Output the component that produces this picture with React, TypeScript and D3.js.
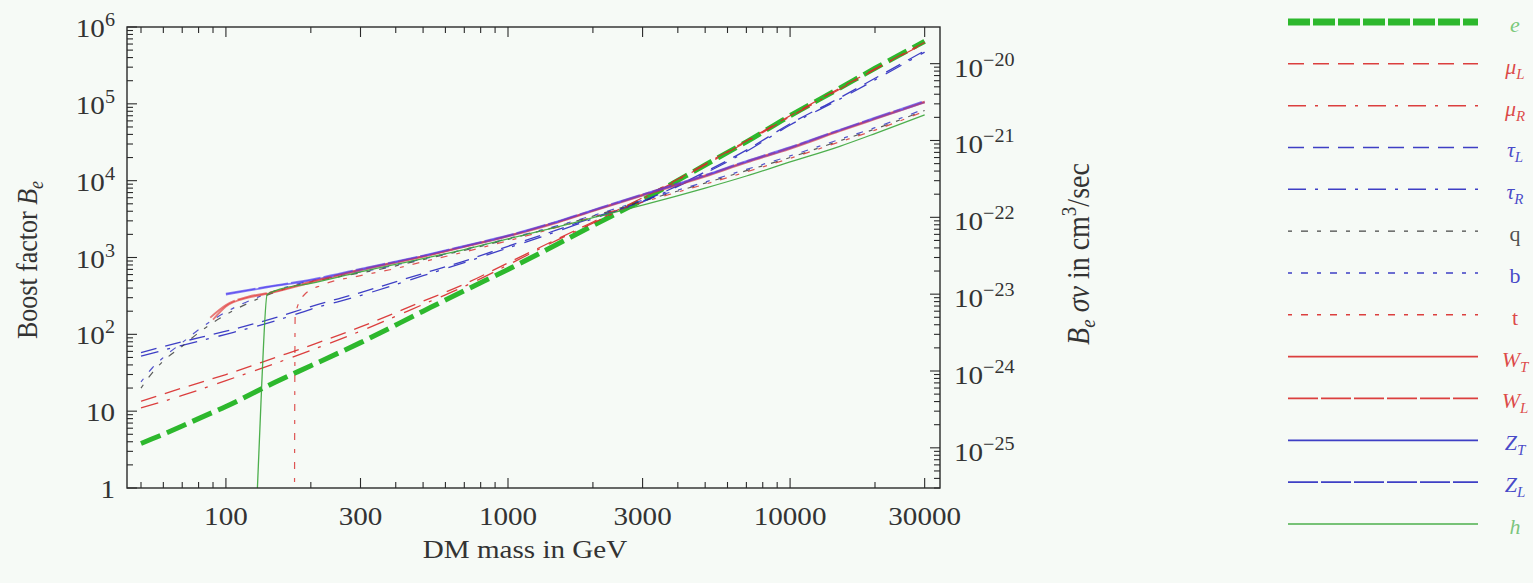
import React from "react";
import * as d3 from "d3";

type Pt = [number, number];

// DM mass (GeV) -> boost factor B_e
const eData: Pt[] = [[50,3.8],[60,5.0],[70,6.4],[80,8.0],[100,11.5],[150,24],[200,39],[300,78],[500,200],[700,370],[1000,700],[1500,1500],[2000,2600],[3000,5600],[5000,16000],[7000,32000],[10000,70000],[15000,160000],[20000,290000],[30000,650000]];
const muLData: Pt[] = [[50,13.5],[70,20],[100,30],[150,50],[200,72],[300,125],[500,270],[700,450],[1000,850],[1500,1750],[2000,2900],[3000,6000],[5000,16500],[7000,33000],[10000,70000],[15000,160000],[20000,285000],[30000,630000]];
const muRData: Pt[] = [[50,11],[70,16],[100,25],[150,42],[200,62],[300,110],[500,245],[700,420],[1000,800],[1500,1700],[2000,2800],[3000,5800],[5000,16000],[7000,32000],[10000,68000],[15000,155000],[20000,280000],[30000,610000]];
const tauLData: Pt[] = [[50,58],[70,80],[100,110],[150,165],[200,230],[300,350],[500,620],[700,900],[1000,1400],[1500,2300],[2000,3300],[3000,5400],[5000,13000],[7000,25000],[10000,55000],[15000,120000],[20000,215000],[30000,490000]];
const tauRData: Pt[] = [[50,52],[70,72],[100,100],[150,150],[200,212],[300,320],[500,580],[700,860],[1000,1330],[1500,2200],[2000,3200],[3000,5300],[5000,12500],[7000,24000],[10000,53000],[15000,115000],[20000,205000],[30000,470000]];
const qData: Pt[] = [[50,20],[55,32],[60,45],[70,70],[80,105],[100,180],[130,290],[180,440],[250,560],[350,700],[500,940],[700,1240],[1000,1720],[1500,2550],[2000,3450],[3000,5400],[5000,9300],[7000,13500],[10000,20000],[15000,33000],[20000,47000],[30000,82000]];
const bData: Pt[] = [[50,24],[55,37],[60,50],[70,78],[80,115],[100,195],[130,305],[180,455],[250,575],[350,720],[500,960],[700,1270],[1000,1760],[1500,2600],[2000,3520],[3000,5550],[5000,9600],[7000,14000],[10000,21000],[15000,34500],[20000,49000],[30000,86000]];
const tData: Pt[] = [[175,0.5],[176,180],[190,330],[220,440],[300,580],[400,720],[500,880],[700,1180],[1000,1650],[1500,2480],[2000,3350],[3000,5250],[5000,9000],[7000,13000],[10000,19500],[15000,32000],[20000,45500],[30000,80000]];
const WTData: Pt[] = [[90,155],[100,230],[120,300],[140,335],[200,470],[300,680],[500,1020],[700,1370],[1000,1880],[1500,2850],[2000,4000],[3000,6400],[5000,11300],[7000,17200],[10000,26000],[15000,44000],[20000,63000],[30000,104000]];
const WLData: Pt[] = [[88,165],[100,240],[120,310],[140,345],[200,485],[300,700],[500,1040],[700,1400],[1000,1920],[1500,2920],[2000,4100],[3000,6600],[5000,11700],[7000,17800],[10000,27000],[15000,45500],[20000,65000],[30000,107000]];
const ZTData: Pt[] = [[100,330],[120,370],[140,410],[200,505],[300,690],[500,1040],[700,1390],[1000,1900],[1500,2900],[2000,4080],[3000,6500],[5000,11500],[7000,17500],[10000,26500],[15000,45000],[20000,64000],[30000,105000]];
const ZLData: Pt[] = [[100,338],[120,378],[140,418],[200,515],[300,710],[500,1060],[700,1420],[1000,1940],[1500,2960],[2000,4150],[3000,6650],[5000,11800],[7000,18000],[10000,27300],[15000,46000],[20000,66000],[30000,109000]];
const hData: Pt[] = [[129,0.8],[134,23],[140,330],[150,370],[200,460],[300,650],[500,970],[700,1270],[1000,1750],[1500,2500],[2000,3300],[3000,4800],[5000,8000],[7000,11500],[10000,17500],[15000,28000],[20000,41000],[30000,72000]];

// tick values
const xMajorTicks = [100, 300, 1000, 3000, 10000, 30000];
const xMinorTicks = [50, 60, 70, 80, 90, 200, 400, 500, 600, 700, 800, 900, 2000, 4000, 5000, 6000, 7000, 8000, 9000, 20000];
const yLeftExps = [0, 1, 2, 3, 4, 5, 6];
const yRightExps = [-25, -24, -23, -22, -21, -20];

const RED = "#d82a2a";
const BLUE = "#2a2ac0";
const WRED = "#e03434";
const ZBLUE = "#4c3af0";
const GREEN = "#2db82d";
const HGREEN = "#3aa63a";
const GREY = "#333333";

type Series = {
  data: Pt[];
  main: string;
  sub?: string;
  italic: boolean;
  color: string;
  legColor: string;
  labelColor: string;
  width: number;
  dash?: string;
  legWidth: number;
  legDash?: string;
  opacity: number;
  z: number;
};

const series: Series[] = [
  { data: eData, main: "e", italic: true, color: GREEN, legColor: GREEN, labelColor: "#63c063", width: 5, dash: "21,7", legWidth: 7, legDash: "22,3", opacity: 1, z: 0 },
  { data: muLData, main: "μ", sub: "L", italic: true, color: RED, legColor: RED, labelColor: RED, width: 1.3, dash: "16,9", legWidth: 1.5, legDash: "16,9", opacity: 0.9, z: 1 },
  { data: muRData, main: "μ", sub: "R", italic: true, color: RED, legColor: RED, labelColor: RED, width: 1.3, dash: "18,9,3,10", legWidth: 1.5, legDash: "18,9,3,10", opacity: 0.9, z: 2 },
  { data: tauLData, main: "τ", sub: "L", italic: true, color: BLUE, legColor: BLUE, labelColor: BLUE, width: 1.3, dash: "16,9", legWidth: 1.5, legDash: "16,9", opacity: 0.9, z: 3 },
  { data: tauRData, main: "τ", sub: "R", italic: true, color: BLUE, legColor: BLUE, labelColor: BLUE, width: 1.3, dash: "18,9,3,10", legWidth: 1.5, legDash: "18,9,3,10", opacity: 0.9, z: 4 },
  { data: qData, main: "q", italic: false, color: GREY, legColor: GREY, labelColor: GREY, width: 1.2, dash: "4,9,7,9", legWidth: 1.4, legDash: "4,9,7,9", opacity: 0.8, z: 5 },
  { data: bData, main: "b", italic: false, color: BLUE, legColor: BLUE, labelColor: BLUE, width: 1.2, dash: "4,9,7,9", legWidth: 1.4, legDash: "4,9,7,9", opacity: 0.8, z: 6 },
  { data: tData, main: "t", italic: false, color: RED, legColor: RED, labelColor: RED, width: 1.2, dash: "4,9,7,9", legWidth: 1.4, legDash: "4,9,7,9", opacity: 0.8, z: 7 },
  { data: WTData, main: "W", sub: "T", italic: true, color: WRED, legColor: RED, labelColor: RED, width: 1.8, legWidth: 1.8, opacity: 0.65, z: 8 },
  { data: WLData, main: "W", sub: "L", italic: true, color: WRED, legColor: RED, labelColor: RED, width: 1.8, dash: "30,3", legWidth: 1.8, legDash: "30,3", opacity: 0.65, z: 10 },
  { data: ZTData, main: "Z", sub: "T", italic: true, color: ZBLUE, legColor: BLUE, labelColor: BLUE, width: 1.8, legWidth: 1.8, opacity: 0.65, z: 9 },
  { data: ZLData, main: "Z", sub: "L", italic: true, color: ZBLUE, legColor: BLUE, labelColor: BLUE, width: 1.8, dash: "30,3", legWidth: 1.8, legDash: "30,3", opacity: 0.65, z: 11 },
  { data: hData, main: "h", italic: true, color: HGREEN, legColor: HGREEN, labelColor: "#66bb66", width: 1.3, legWidth: 1.6, opacity: 0.9, z: 12 },
];

const W = 1533, H = 583;
const PL = 127, PR = 940, PT = 27, PB = 488;
const FONT = "'Liberation Serif', 'Times New Roman', serif";
const SX = 1.12;
const TICK_FS = 26;
const SUP_FS = 18;

const x = d3.scaleLog().domain([44.6, 34000]).range([PL, PR]);
const y = d3.scaleLog().domain([1, 1e6]).range([PB, PT]);
const y2 = d3.scaleLog().domain([3e-26, 3e-20]).range([PB, PT]);

const line = d3
  .line<Pt>()
  .x((d) => x(d[0]))
  .y((d) => y(d[1]))
  .curve(d3.curveMonotoneX);

function leftMinor(): number[] {
  const out: number[] = [];
  for (let n = 0; n < 6; n++) for (let k = 2; k <= 9; k++) out.push(k * Math.pow(10, n));
  return out;
}
function rightMinor(): number[] {
  const out: number[] = [];
  for (let n = -26; n <= -21; n++)
    for (let k = 2; k <= 9; k++) {
      const v = k * Math.pow(10, n);
      if (v >= 3e-26 * 0.999 && v <= 3e-20 * 1.001) out.push(v);
    }
  return out;
}

function Stretch({ tx, ty, rot, children }: { tx: number; ty: number; rot?: number; children: React.ReactNode }) {
  return (
    <g transform={`translate(${tx},${ty}) scale(${SX},1)${rot ? ` rotate(${rot})` : ""}`}>{children}</g>
  );
}

export default function App() {
  const MAJ = 10, MIN = 6;
  const legX1 = 1288, legX2 = 1478, legY0 = 22, legDY = 41.83;
  const drawOrder = [...series].sort((a, b) => a.z - b.z);
  return (
    <svg
      width={W}
      height={H}
      style={{ position: "absolute", left: 0, top: 0, display: "block" }}
      xmlns="http://www.w3.org/2000/svg"
    >
      <defs>
        <clipPath id="plotclip">
          <rect x={PL} y={PT} width={PR - PL} height={PB - PT} />
        </clipPath>
      </defs>
      <rect x={0} y={0} width={W} height={H} fill="#f6faf6" />

      {/* curves */}
      <g clipPath="url(#plotclip)" fill="none" strokeLinecap="butt">
        {drawOrder.map((s, i) => (
          <path
            key={i}
            d={line(s.data) || ""}
            stroke={s.color}
            strokeWidth={s.width}
            strokeDasharray={s.dash}
            strokeOpacity={s.opacity}
          />
        ))}
      </g>

      {/* frame */}
      <rect x={PL} y={PT} width={PR - PL} height={PB - PT} fill="none" stroke="#2a2a2a" strokeWidth={1.4} />

      {/* ticks */}
      <g stroke="#2a2a2a" strokeWidth={1.1}>
        {xMajorTicks.map((v) => (
          <g key={"xM" + v}>
            <line x1={x(v)} x2={x(v)} y1={PB} y2={PB - MAJ} />
            <line x1={x(v)} x2={x(v)} y1={PT} y2={PT + MAJ} />
          </g>
        ))}
        {xMinorTicks.map((v) => (
          <g key={"xm" + v}>
            <line x1={x(v)} x2={x(v)} y1={PB} y2={PB - MIN} />
            <line x1={x(v)} x2={x(v)} y1={PT} y2={PT + MIN} />
          </g>
        ))}
        {yLeftExps.map((e) => (
          <line key={"yM" + e} x1={PL} x2={PL + MAJ} y1={y(Math.pow(10, e))} y2={y(Math.pow(10, e))} />
        ))}
        {leftMinor().map((v) => (
          <line key={"ym" + v} x1={PL} x2={PL + MIN} y1={y(v)} y2={y(v)} />
        ))}
        {yRightExps.map((e) => (
          <line key={"rM" + e} x1={PR} x2={PR - MAJ} y1={y2(Math.pow(10, e))} y2={y2(Math.pow(10, e))} />
        ))}
        {rightMinor().map((v) => (
          <line key={"rm" + v} x1={PR} x2={PR - MIN} y1={y2(v)} y2={y2(v)} />
        ))}
      </g>

      {/* tick labels */}
      <g fontFamily={FONT} fill="#333">
        {xMajorTicks.map((v) => (
          <Stretch key={"xl" + v} tx={x(v)} ty={525}>
            <text textAnchor="middle" fontSize={TICK_FS}>
              {String(v)}
            </text>
          </Stretch>
        ))}
        {yLeftExps.map((e) => (
          <Stretch key={"yl" + e} tx={115} ty={y(Math.pow(10, e)) + 10}>
            <text textAnchor="end" fontSize={TICK_FS}>
              {e === 0 ? "1" : e === 1 ? "10" : (
                <>
                  <tspan>10</tspan>
                  <tspan fontSize={SUP_FS} dy={-11}>{String(e)}</tspan>
                </>
              )}
            </text>
          </Stretch>
        ))}
        {yRightExps.map((e) => (
          <Stretch key={"yr" + e} tx={954} ty={y2(Math.pow(10, e)) + 13}>
            <text textAnchor="start" fontSize={TICK_FS}>
              <tspan>10</tspan>
              <tspan fontSize={SUP_FS} dy={-11}>{"−" + String(-e)}</tspan>
            </text>
          </Stretch>
        ))}
      </g>

      {/* axis titles */}
      <g fontFamily={FONT} fill="#333">
        <Stretch tx={525} ty={558}>
          <text textAnchor="middle" fontSize={26}>DM mass in GeV</text>
        </Stretch>
        <Stretch tx={37} ty={260} rot={-90}>
          <text textAnchor="middle" fontSize={TICK_FS}>
            <tspan>Boost factor </tspan>
            <tspan fontStyle="italic">B</tspan>
            <tspan fontStyle="italic" fontSize={SUP_FS} dy={5}>e</tspan>
          </text>
        </Stretch>
        <Stretch tx={1089} ty={254} rot={-90}>
          <text textAnchor="middle" fontSize={28}>
            <tspan fontStyle="italic">B</tspan>
            <tspan fontStyle="italic" fontSize={19} dy={5}>e</tspan>
            <tspan dy={-5}> </tspan>
            <tspan fontStyle="italic">σv</tspan>
            <tspan> in cm</tspan>
            <tspan fontSize={19} dy={-12}>3</tspan>
            <tspan dy={12}>/sec</tspan>
          </text>
        </Stretch>
      </g>

      {/* legend */}
      <g>
        {series.map((s, i) => {
          const ly = legY0 + i * legDY;
          return (
            <g key={"lg" + i}>
              <line
                x1={legX1}
                x2={legX2}
                y1={ly}
                y2={ly}
                stroke={s.legColor}
                strokeWidth={s.legWidth}
                strokeDasharray={s.legDash}
                strokeOpacity={s.legColor === GREEN ? 1 : 0.9}
              />
              <text
                x={1515}
                y={ly + 10}
                textAnchor="middle"
                fontFamily={FONT}
                fontSize={22}
                fill={s.labelColor}
                fillOpacity={0.85}
              >
                <tspan fontStyle={s.italic ? "italic" : "normal"}>{s.main}</tspan>
                {s.sub ? (
                  <tspan fontStyle="italic" fontSize={15} dy={5}>
                    {s.sub}
                  </tspan>
                ) : null}
              </text>
            </g>
          );
        })}
      </g>
    </svg>
  );
}
